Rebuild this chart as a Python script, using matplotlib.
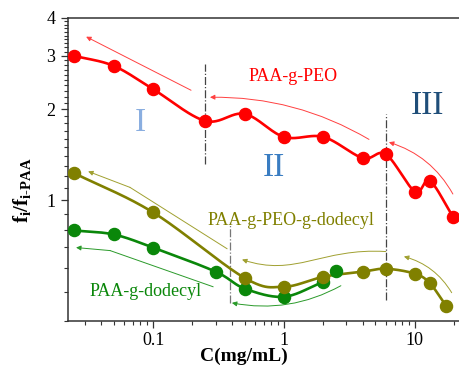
import numpy as np
import matplotlib
matplotlib.use('Agg')
import matplotlib.pyplot as plt
from matplotlib.path import Path
from matplotlib.patches import FancyArrowPatch
from matplotlib.ticker import FixedLocator, NullFormatter

plt.rcParams['font.family'] = ['Liberation Serif', 'DejaVu Serif']
plt.rcParams['mathtext.fontset'] = 'custom'
plt.rcParams['mathtext.rm'] = 'Liberation Serif:bold'
plt.rcParams['mathtext.bf'] = 'Liberation Serif:bold'
plt.rcParams['mathtext.it'] = 'Liberation Serif:bold'

# PAA-g-PEO
x_peo = [0.025, 0.05, 0.1, 0.25, 0.5, 1, 2, 4, 6, 10, 13, 19.5]
y_peo = [3.0, 2.78, 2.33, 1.83, 1.93, 1.62, 1.62, 1.38, 1.42, 1.07, 1.16, 0.885]
# PAA-g-PEO-g-dodecyl
x_pd = [0.025, 0.1, 0.5, 1, 2, 4, 6, 10, 13, 17.3]
y_pd = [1.23, 0.913, 0.555, 0.519, 0.56, 0.582, 0.595, 0.573, 0.533, 0.449]
# PAA-g-dodecyl
x_dod = [0.025, 0.05, 0.1, 0.3, 0.5, 1, 2, 2.5]
y_dod = [0.796, 0.772, 0.699, 0.582, 0.512, 0.481, 0.539, 0.586]

c_red = '#ff0000'
c_olive = '#808000'
c_green = '#0a870a'


def smooth(x, y, n=40):
    # catmull-rom through the points in log-log space
    p = np.column_stack([np.log10(x), np.log10(y)])
    p = np.vstack([2 * p[0] - p[1], p, 2 * p[-1] - p[-2]])
    t = np.linspace(0, 1, n)[:, None]
    out = []
    for i in range(1, len(p) - 2):
        p0, p1, p2, p3 = p[i - 1], p[i], p[i + 1], p[i + 2]
        seg = 0.5 * ((2 * p1) + (-p0 + p2) * t + (2 * p0 - 5 * p1 + 4 * p2 - p3) * t ** 2
                     + (-p0 + 3 * p1 - 3 * p2 + p3) * t ** 3)
        out.append(seg)
    s = np.vstack(out)
    return 10 ** s[:, 0], 10 ** s[:, 1]


fig = plt.figure(figsize=(4.6, 3.68), dpi=100)
ax = fig.add_axes([68 / 460, 47 / 368, 399 / 460, 303 / 368])
ax.set_xscale('log')
ax.set_yscale('log')
ax.set_xlim(0.0224, 25)
ax.set_ylim(0.4, 4)

# fitted curves
sx, sy = smooth(x_peo, y_peo)
ax.plot(sx, sy, color=c_red, lw=1.9, zorder=3)
sx, sy = smooth(x_pd, y_pd)
ax.plot(sx, sy, color=c_olive, lw=1.9, zorder=3)
sx, sy = smooth(x_dod[:-1], y_dod[:-1])
ax.plot(sx, sy, color=c_green, lw=1.9, zorder=3)

ax.plot(x_peo, y_peo, 'o', color=c_red, ms=8.7, zorder=4)
ax.plot(x_dod, y_dod, 'o', color=c_green, ms=8.7, zorder=4)
ax.plot(x_pd, y_pd, 'o', color=c_olive, ms=8.7, zorder=5)

# region boundaries
ax.plot([0.25, 0.25], [1.316, 2.82], color='#444444', lw=0.9, ls='-.', zorder=2)
ax.plot([6, 6], [0.47, 1.93], color='#444444', lw=0.9, ls='-.', zorder=2)
ax.plot([0.387, 0.387], [0.459, 0.852], color='#777777', lw=0.9, ls='-.', zorder=2)


def arrow(tail, head, color, rad=0.0):
    ax.annotate('', xy=head, xytext=tail,
                arrowprops=dict(arrowstyle='-|>', color=color, lw=0.7,
                                mutation_scale=7, shrinkA=0, shrinkB=0,
                                connectionstyle='arc3,rad=%s' % rad))


a_red = '#ff4040'
a_olive = '#a0a030'
a_green = '#2a9a2a'
arrow((0.195, 2.31), (0.0308, 3.47), a_red)
arrow((4.46, 1.59), (0.272, 2.19), a_red, 0.14)
arrow((19.5, 1.05), (6.33, 1.556), a_red, 0.2)

ax.plot([0.367, 0.0667], [0.693, 1.104], color=a_olive, lw=0.7)
arrow((0.0667, 1.104), (0.0319, 1.247), a_olive)
p = Path([(6.0, 0.678), (1.92, 0.699), (1.23, 0.556), (0.478, 0.638)],
         [Path.MOVETO, Path.CURVE4, Path.CURVE4, Path.CURVE4])
ax.add_patch(FancyArrowPatch(path=p, arrowstyle='-|>', color=a_olive, lw=0.7,
                             mutation_scale=7, transform=ax.transData))
arrow((19.1, 0.496), (8.24, 0.653), a_olive, 0.2)

ax.plot([0.287, 0.047], [0.519, 0.683], color=a_green, lw=0.7)
arrow((0.047, 0.683), (0.0258, 0.699), a_green)
arrow((2.72, 0.523), (0.40, 0.459), a_green, -0.18)

# labels
ax.text(1.17, 2.57, 'PAA-g-PEO', color=c_red, fontsize=13, ha='center', va='center')
ax.text(1.13, 0.859, 'PAA-g-PEO-g-dodecyl', color=c_olive, fontsize=13, ha='center', va='center')
ax.text(0.0869, 0.5, 'PAA-g-dodecyl', color=c_green, fontsize=13, ha='center', va='center')
ax.text(0.0796, 1.81, 'I', color='#8aaee0', fontsize=24, ha='center', va='center')
ax.text(0.84, 1.286, 'II', color='#3a7dc2', fontsize=24, ha='center', va='center')
ax.text(12.4, 2.05, 'III', color='#1f4e79', fontsize=24, ha='center', va='center')

# axes styling
for side in ['left', 'top', 'bottom', 'right']:
    ax.spines[side].set_linewidth(1.1)
    ax.spines[side].set_color('#333333')

ax.yaxis.set_major_locator(FixedLocator([1, 2, 3, 4]))
ax.yaxis.set_minor_locator(FixedLocator(list(np.arange(0.4, 1.0, 0.1)) + list(np.arange(1.1, 4.0, 0.1))))
ax.yaxis.set_major_formatter(plt.FixedFormatter(['1', '2', '3', '4']))
ax.yaxis.set_minor_formatter(NullFormatter())
ax.xaxis.set_major_locator(FixedLocator([0.1, 1, 10]))
ax.xaxis.set_major_formatter(plt.FixedFormatter(['0.1', '1', '10']))
ax.xaxis.set_minor_formatter(NullFormatter())
ax.tick_params(which='major', length=5, width=0.9, labelsize=13, pad=4, color='#333333')
ax.tick_params(axis='x', which='major', pad=3)
ax.tick_params(which='minor', length=3, width=0.8, color='#333333')
ax.tick_params(top=False, right=False, which='both')

ax.set_xlabel('C(mg/mL)', fontsize=14, fontweight='bold', va='center')
ax.xaxis.set_label_coords(0.44, -0.116)
ax.set_ylabel(r'f$_{\mathrm{i}}$/f$_{\mathrm{i\text{-}PAA}}$', fontsize=15, fontweight='bold', va='center')
ax.yaxis.set_label_coords(-46 / 399, 0.43)

fig.savefig('out.png', dpi=100)
